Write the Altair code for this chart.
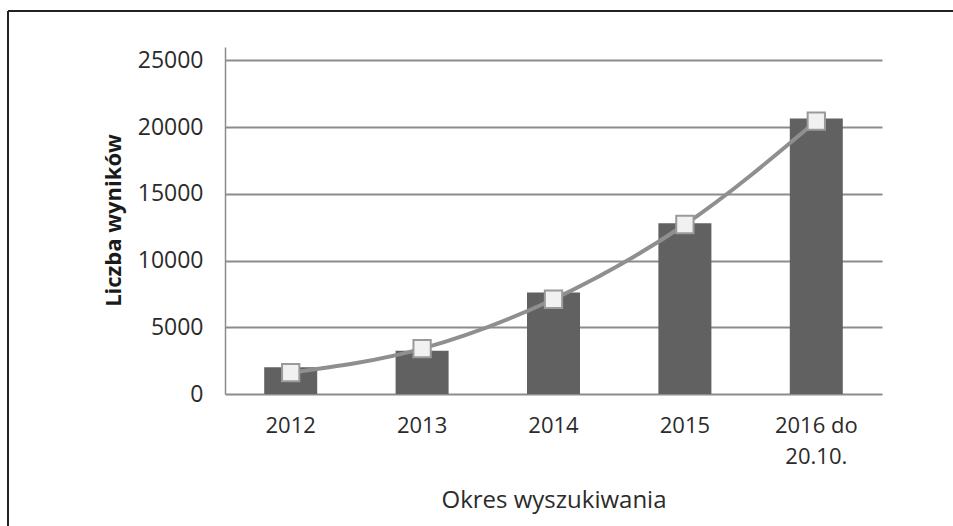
import altair as alt
import pandas as pd

categories = ["2012", "2013", "2014", "2015", "2016 do 20.10."]
bar_values = [2000, 3250, 7600, 12800, 20650]
line_values = [1600, 3400, 7100, 12700, 20450]
y_ticks = [0, 5000, 10000, 15000, 20000, 25000]

df = pd.DataFrame({"okres": categories, "wyniki": bar_values, "trend": line_values})

FONT = "Open Sans"
TEXT = "#2b2b2b"

x_enc = alt.X(
    "okres:N",
    sort=categories,
    title="Okres wyszukiwania",
    scale=alt.Scale(paddingInner=0, paddingOuter=0),
    axis=alt.Axis(
        labelAngle=0,
        domain=False,
        ticks=False,
        labelPadding=21,
        labelFontSize=22,
        labelFont=FONT,
        labelColor=TEXT,
        labelLineHeight=31,
        labelExpr="split(replace(datum.label, 'do ', 'do|'), '|')",
        titleFont=FONT,
        titleFontSize=24,
        titleFontWeight="normal",
        titleColor=TEXT,
        titleY=106,
        titleBaseline="middle",
    ),
)

y_axis = alt.Axis(
    values=y_ticks,
    format="d",
    grid=True,
    gridColor="#8c8c8c",
    gridWidth=2,
    domain=True,
    domainColor="#8c8c8c",
    domainWidth=1.5,
    ticks=False,
    labelPadding=22,
    labelFontSize=23,
    labelFont=FONT,
    labelColor=TEXT,
    title="Liczba wyników",
    titleFont=FONT,
    titleFontSize=22,
    titleFontWeight="bold",
    titleColor="#1a1a1a",
    titleAngle=270,
    titleX=-112,
    titleY=173,
    titleAlign="center",
    titleBaseline="middle",
)

bars = alt.Chart(df).mark_bar(size=53, color="#616161").encode(
    x=x_enc,
    y=alt.Y("wyniki:Q", scale=alt.Scale(domain=[0, 25000]), axis=y_axis),
)

line = alt.Chart(df).mark_line(
    color="#8f8f8f", strokeWidth=4, interpolate="monotone"
).encode(
    x=alt.X("okres:N", sort=categories),
    y=alt.Y("trend:Q"),
)

points = alt.Chart(df).mark_square(
    size=300, fill="#f1f1f1", stroke="#9a9a9a", strokeWidth=2, opacity=1
).encode(
    x=alt.X("okres:N", sort=categories),
    y=alt.Y("trend:Q"),
)

frame_top = alt.Chart(df).mark_rule(color="#222222", strokeWidth=2).encode(
    x=alt.value(-217), x2=alt.value(728), y=alt.value(-36)
)
frame_left = alt.Chart(df).mark_rule(color="#222222", strokeWidth=2).encode(
    x=alt.value(-217), y=alt.value(-36), y2=alt.value(479)
)

chart = alt.layer(bars, line, points, frame_top, frame_left).properties(
    width=657,
    height=347,
    autosize=alt.AutoSizeParams(type="none"),
    padding={"left": 225, "top": 47, "right": 71, "bottom": 132},
    background="white",
).configure_view(stroke=None)

chart.save("out.html", embed_options={"renderer": "svg", "actions": False})
